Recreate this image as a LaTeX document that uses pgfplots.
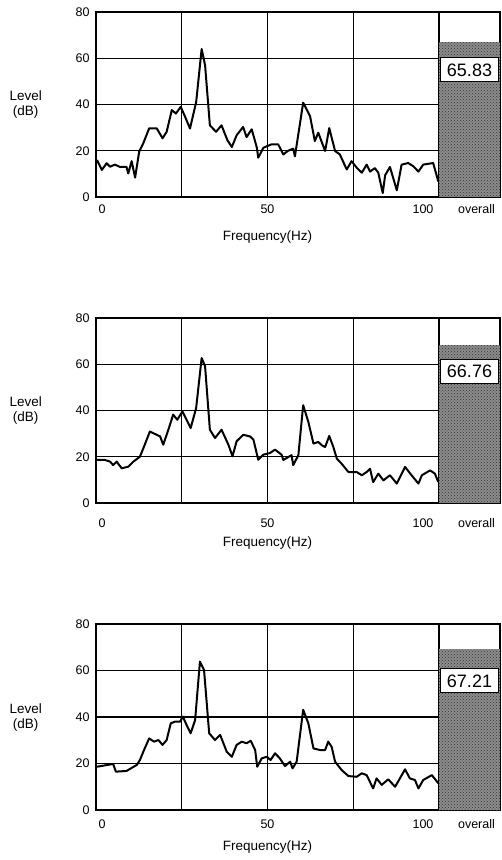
\documentclass[border=0pt]{standalone}
\usepackage{pgfplots}
\pgfplotsset{compat=1.18}
\usepackage{fontspec}
\setmainfont{Liberation Sans}
\usetikzlibrary{patterns}

\tikzset{
  valbox/.style={fill=white, draw=black, line width=1pt, minimum width=58pt, minimum height=24pt, inner sep=0pt, font=\fontsize{18}{18}\selectfont},
}
\pgfplotsset{
  panel/.style={
    scale only axis, width=343pt, height=185pt, anchor=south west,
    xmin=0, xmax=100, ymin=0, ymax=80,
    xtick={0,50,100}, minor xtick={25,75}, ytick={0,20,40,60,80},
    xticklabels={\hspace*{12pt}0, 50, 100\hspace*{32pt}},
    grid=both,
    major grid style={black, line width=1.3pt},
    minor grid style={black, line width=1.3pt},
    axis line style={black, line width=1.6pt},
    major tick length=0pt, minor tick length=0pt,
    tick style={draw=none},
    /pgf/number format/assume math mode=true,
    ticklabel style={font=\fontsize{12.5}{13}\selectfont},
    yticklabel style={xshift=-3pt},
    xlabel={Frequency(Hz)},
    ylabel={Level\\(dB)},
    every axis y label/.style={at={(axis description cs:-0.205,0.5)}, anchor=center, align=center, font=\fontsize{13.5}{15}\selectfont},
    every axis x label/.style={at={(axis description cs:0.5,-0.216)}, anchor=center, font=\fontsize{13.5}{15}\selectfont},
  },
  ovr/.style={
    scale only axis, width=61pt, height=185pt, anchor=south west,
    xmin=0, xmax=1, ymin=0, ymax=80,
    xtick={0.5}, xticklabels={overall}, ytick=\empty,
    axis line style={black, line width=1.6pt},
    major tick length=0pt, tick style={draw=none},
    ticklabel style={font=\fontsize{12.5}{13}\selectfont},
    xticklabel style={xshift=7pt},
  },
  curve/.style={black, line width=2pt, line join=round},
  barfill/.style={draw=none, fill=black!45, postaction={pattern=crosshatch dots, pattern color=black!80}},
}

\begin{document}
\begin{tikzpicture}
\path[use as bounding box] (0pt,0pt) rectangle (501pt,-860pt);

% ---------------- Panel 1 ----------------
\begin{axis}[panel, at={(96pt,-197pt)}, xticklabel style={yshift=-4pt}]
\addplot[curve] coordinates {
(0.3,16) (1.7,11.7) (3.1,14.6) (4.1,13.1) (5.5,14) (7.0,13) (8.9,13) (9.4,10.2)
(10.4,15.5) (11.4,8.4) (12.6,19.7) (13.8,23.3) (15.5,29.7) (17.7,29.7) (19.4,25.4)
(20.6,28.2) (22.1,37.6) (23.3,36.1) (24.7,39) (26.0,34.6) (27.4,29.6) (29.2,41)
(30.8,64) (31.8,57) (33.2,31) (35.0,28.2) (36.6,31) (38.3,24.6) (39.6,21.6)
(41.0,26.7) (42.9,30.3) (43.9,25.9) (45.4,29.3) (46.9,21.3) (47.3,17) (48.8,21.3)
(51.2,22.8) (53.1,22.8) (54.6,18.4) (56.0,20) (57.5,20.9) (58.0,17.6) (60.4,40.8)
(62.4,35) (63.8,24.2) (64.8,27.8) (66.8,19.9) (68.0,29.8) (69.7,19.9) (71.1,18.4)
(73.1,11.9) (74.5,15.5) (76.0,12.7) (77.5,10.5) (78.9,14) (79.9,11) (81.3,12.5)
(82.3,10.5) (83.6,1.7) (84.3,9.4) (85.7,13) (87.7,2.9) (89.1,14) (91.0,14.7)
(92.5,13.3) (94.0,11) (95.4,14) (98.3,14.7) (99.8,6.7)
};
\end{axis}
\begin{axis}[ovr, at={(439pt,-197pt)}, xticklabel style={yshift=-4pt}]
\addplot[barfill] coordinates {(0,67.0) (1,67.0)} \closedcycle;
\node[valbox] at (axis cs:0.5,55) {65.83};
\end{axis}

% ---------------- Panel 2 ----------------
\begin{axis}[panel, at={(96pt,-503pt)}, xticklabel style={yshift=-12pt}]
\addplot[curve] coordinates {
(0.2,18.6) (2.6,18.6) (4.1,17.9) (5.0,16.4) (6.0,17.9) (7.5,15) (9.4,15.7)
(10.9,17.9) (12.8,20) (14.0,24.4) (15.7,30.9) (17.7,29.5) (18.7,28.8) (19.6,25.2)
(21.1,31.7) (22.5,38.2) (23.7,36) (25.2,39.6) (26.4,36) (27.6,32.4) (29.2,41.1)
(30.8,62.7) (31.8,59.1) (33.2,31.7) (34.7,28.1) (36.6,31.7) (38.6,25.2) (39.8,20.2)
(41.0,26.7) (42.9,29.5) (44.9,28.8) (45.9,27.4) (47.3,18.7) (48.8,20.9) (50.7,21.6)
(52.2,23.1) (54.1,20.9) (54.6,18.6) (57.0,20.7) (57.5,16.4) (59.0,20.7) (60.4,42.3)
(61.9,35.1) (63.4,25.7) (64.8,26.4) (65.8,25) (66.8,24.2) (68.0,29) (69.2,24.2)
(70.2,19.2) (71.6,17) (73.6,13.4) (76.0,13.4) (77.5,12) (78.9,13.4) (79.9,14.8)
(80.8,9) (82.3,12.7) (83.8,9.8) (85.7,12) (87.7,8.4) (90.1,15.6) (92.0,12)
(94.0,8.4) (95.0,12) (97.4,14.1) (98.8,12.7) (99.8,9.1)
};
\end{axis}
\begin{axis}[ovr, at={(439pt,-503pt)}, xticklabel style={yshift=-12pt}]
\addplot[barfill] coordinates {(0,68.3) (1,68.3)} \closedcycle;
\node[valbox] at (axis cs:0.5,57) {66.76};
\end{axis}

% ---------------- Panel 3 ----------------
\begin{axis}[panel, at={(96pt,-810pt)}, height=186pt, xticklabel style={yshift=-6pt},
  every axis x label/.style={at={(axis description cs:0.5,-0.199)}, anchor=center, font=\fontsize{13.5}{15}\selectfont}]
\addplot[curve] coordinates {
(0.2,18.6) (5.0,19.8) (5.8,16.5) (8.9,16.8) (11.9,19.4) (12.8,21.5) (14.0,25.8)
(15.5,30.8) (16.9,29.4) (18.2,30.1) (19.4,28) (20.6,30.1) (21.8,37.3) (23.0,38)
(24.5,38) (25.3,40.2) (26.4,36.6) (27.6,33) (28.9,38.7) (30.3,63.8) (31.5,60.2)
(33.0,33) (34.7,30.1) (36.2,32.3) (38.1,25.1) (39.6,22.9) (41.0,28) (42.5,29.4)
(43.9,28.7) (45.1,29.8) (46.4,25.8) (47.0,18.6) (48.3,22.2) (49.8,22.9) (50.9,21.5)
(52.2,24.4) (53.6,22.2) (55.1,18.9) (56.6,20.8) (57.3,17.9) (58.5,20.8) (60.4,43.1)
(61.9,37.3) (63.4,26.5) (65.3,25.8) (66.8,25.8) (67.7,29.4) (68.7,27.2) (69.7,20.8)
(71.6,17.2) (73.6,14.6) (76.0,14.3) (77.5,15.8) (78.9,15) (80.8,9.3) (81.8,13.6)
(83.3,10.8) (85.2,13.2) (87.2,10) (88.6,13.6) (90.1,17.5) (91.5,13.6) (93.0,12.9)
(94.0,9.3) (95.4,12.9) (97.9,15) (99.8,11.5)
};
\end{axis}
\begin{axis}[ovr, at={(439pt,-810pt)}, height=186pt, xticklabel style={yshift=-6pt}]
\addplot[barfill] coordinates {(0,69.2) (1,69.2)} \closedcycle;
\node[valbox] at (axis cs:0.5,55.5) {67.21};
\end{axis}
\end{tikzpicture}
\end{document}
